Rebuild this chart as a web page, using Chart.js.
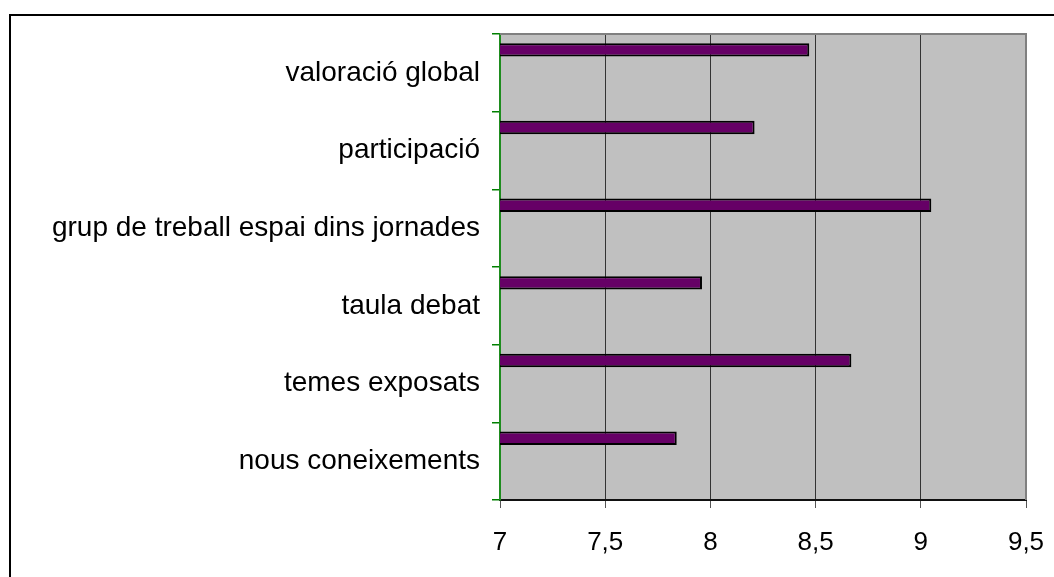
<!DOCTYPE html>
<html>
<head>
<meta charset="utf-8">
<script src="https://cdn.jsdelivr.net/npm/chart.js@4"></script>
<style>
html,body{margin:0;padding:0;background:#fff;}
#wrap{width:1054px;height:577px;position:relative;}
</style>
</head>
<body>
<div id="wrap"><canvas id="c" width="1054" height="577"></canvas></div>
<script>
const categories = ["valoració global", "participació", "grup de treball espai dins jornades", "taula debat", "temes exposats", "nous coneixements"];
const scores = [8.47, 8.21, 9.05, 7.96, 8.67, 7.84];
const emptySeries = [null, null, null, null, null, null];
const xTicks = [7, 7.5, 8, 8.5, 9, 9.5];

const frame = {
  id: 'frame',
  beforeDraw(chart) {
    const {ctx, chartArea: a} = chart;
    ctx.save();
    ctx.fillStyle = '#C0C0C0';
    ctx.fillRect(a.left, a.top, a.right - a.left, a.bottom - a.top);
    ctx.restore();
  },
  afterDatasetsDraw(chart) {
    const {ctx, chartArea: a} = chart;
    ctx.save();
    ctx.strokeStyle = '#808080';
    ctx.lineWidth = 2;
    ctx.beginPath();
    ctx.moveTo(a.left, a.top);
    ctx.lineTo(a.right, a.top);
    ctx.lineTo(a.right, a.bottom);
    ctx.stroke();
    ctx.strokeStyle = '#000';
    ctx.lineWidth = 2;
    ctx.beginPath();
    ctx.moveTo(10, 577);
    ctx.lineTo(10, 15);
    ctx.lineTo(1054, 15);
    ctx.stroke();
    ctx.restore();
  }
};

new Chart(document.getElementById('c'), {
  type: 'bar',
  data: {
    labels: categories,
    datasets: [
      {data: scores, backgroundColor: '#660066', borderColor: '#000', borderWidth: 2, borderSkipped: false},
      {data: emptySeries},
      {data: emptySeries},
      {data: emptySeries}
    ]
  },
  options: {
    indexAxis: 'y',
    responsive: false,
    animation: false,
    categoryPercentage: 0.789,
    barPercentage: 0.874,
    layout: {padding: {top: 34, right: 28, left: 0, bottom: 0}},
    plugins: {legend: {display: false}, tooltip: {enabled: false}},
    scales: {
      x: {
        min: 7, max: 9.5,
        afterBuildTicks(s) { s.ticks = xTicks.map(v => ({value: v})); },
        afterFit(s) { s.height = 77; s.paddingLeft = 0; s.paddingRight = 0; },
        grid: {color: '#333', lineWidth: 1, tickLength: 8, tickColor: '#555'},
        border: {color: '#111', width: 2},
        ticks: {
          color: '#000', padding: 19,
          font: {family: 'Liberation Sans, Arial, sans-serif', size: 26},
          callback: v => String(v).replace('.', ',')
        }
      },
      y: {
        afterFit(s) { s.width = 500; },
        grid: {drawOnChartArea: false, color: '#008000', tickLength: 8, lineWidth: 1.5},
        border: {color: '#1E8C1E', width: 2},
        ticks: {
          color: '#000', padding: 12,
          font: {family: 'Liberation Sans, Arial, sans-serif', size: 28}
        }
      }
    }
  },
  plugins: [frame]
});
</script>
</body>
</html>
